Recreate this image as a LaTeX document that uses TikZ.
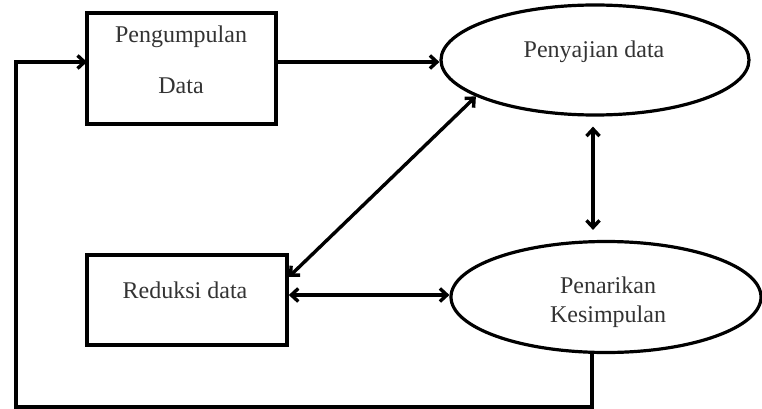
\documentclass[tikz,border=0pt]{standalone}
\usepackage{fontspec}
\setmainfont{Liberation Serif}
\usetikzlibrary{arrows.meta,shapes.geometric,calc}
\begin{document}
\begin{tikzpicture}[x=1pt,y=-1pt,
  boxnode/.style={draw,line width=3.6pt,rectangle,inner sep=0pt},
  ellnode/.style={draw,line width=3.2pt,ellipse,inner sep=0pt},
  txt/.style={text=black!80,font=\fontsize{24}{28}\selectfont,inner sep=0pt},
  conn/.style={line width=3.4pt,-{Straight Barb[length=7pt,width=13pt,line width=3.4pt]}},
  dconn/.style={line width=3.4pt,{Straight Barb[length=7pt,width=13pt,line width=3.4pt]}-{Straight Barb[length=7pt,width=13pt,line width=3.4pt]}}
]
\useasboundingbox (0,0) rectangle (762,409);
\node[boxnode,minimum width=189pt,minimum height=111pt] (box1) at (181.5,68.5) {};
\node[boxnode,minimum width=200pt,minimum height=90pt] (box2) at (187,300) {};
\node[ellnode,minimum width=308pt,minimum height=110pt] (e1) at (595,60) {};
\node[ellnode,minimum width=310pt,minimum height=111pt] (e2) at (606,297) {};
\node[txt] (t1) at (181,37) {Pengumpulan};
\node[txt] (t2) at (181,86) {Data};
\node[txt] (t3) at (185,290) {Reduksi data};
\node[txt] (t4) at (594,52) {Penyajian data};
\node[txt] (t5) at (608,285) {Penarikan};
\node[txt] (t6) at (608,317) {Kesimpulan};
\coordinate (in1) at (87,62);
\coordinate (c1) at (16,407);
\draw[conn,line cap=butt] ([xshift=-14pt]e2.south) |- (c1) |- (in1);
\draw[conn] (box1.east |- in1) -- (e1.west |- in1);
\draw[dconn] ([yshift=23pt]box2.east) -- (e1.197.7);
\draw[dconn] ([yshift=5pt]box2.east) -- ([yshift=5pt]box2.east -| e2.west);
\draw[dconn,shorten <=10pt,shorten >=10pt] ([xshift=-2pt]e1.south) -- ([xshift=-2pt]e1.south |- e2.north);
\end{tikzpicture}
\end{document}
